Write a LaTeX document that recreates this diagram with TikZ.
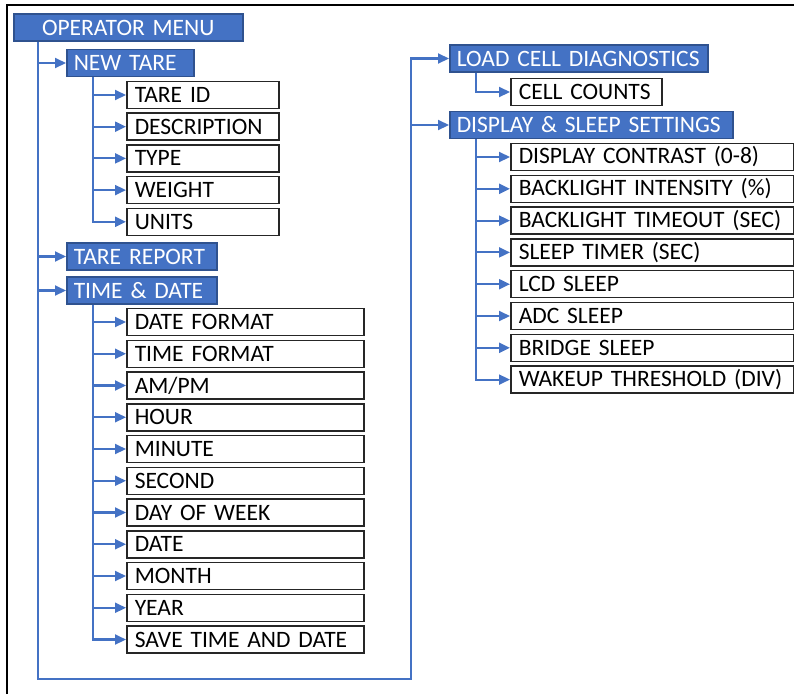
\documentclass[tikz,border=0pt]{standalone}
\usepackage{fontspec}
\setmainfont{Carlito}
\usetikzlibrary{arrows.meta}
\definecolor{menublue}{HTML}{4472C4}
\definecolor{menuedge}{HTML}{2F528F}
\begin{document}
\begin{tikzpicture}[x=1pt,y=-1pt,
  every node/.style={font=\fontsize{23.5}{26}\selectfont, inner ysep=0pt},
  head/.style={draw=menuedge, fill=menublue, text=white, line width=1.5pt,
    minimum height=27pt, anchor=west, align=left, inner xsep=7pt, text width=#1},
  item/.style={draw=black!85, fill=white, line width=1.5pt,
    minimum height=27pt, anchor=west, align=left, inner xsep=8pt, text width=#1},
  conn/.style={draw=menublue, line width=2.1pt},
  arr/.style={conn, -{Triangle[length=11pt,width=10pt]}},
]
\useasboundingbox (0,0) rectangle (794,694);

% page frame
\draw[line width=2pt] (6.5,694) -- (6.5,5) -- (794,5);

% top level
\node[head=215pt, align=center] (opmenu) at (13,27.5) {OPERATOR MENU};
\node[head=113pt] (newtare)    at (66,63)    {NEW TARE};
\node[head=136pt] (tarereport) at (66,256.5) {TARE REPORT};
\node[head=136pt] (timedate)   at (66,290.5) {TIME \& DATE};
\node[head=244pt] (loadcell)   at (449,58.5) {LOAD CELL DIAGNOSTICS};
\node[head=269pt] (display)    at (449,125)  {DISPLAY \& SLEEP SETTINGS};

% new tare entries
\foreach \n/\t [count=\i from 0] in {tareid/TARE ID, desc/DESCRIPTION, type/TYPE, weight/WEIGHT, units/UNITS}
  \node[item=136pt] (\n) at (126,95+31.7*\i) {\t};

% time and date entries
\foreach \n/\t [count=\i from 0] in {datefmt/DATE FORMAT, timefmt/TIME FORMAT, ampm/{AM/PM},
    hour/HOUR, minute/MINUTE, second/SECOND, dow/DAY OF WEEK, date/DATE, month/MONTH,
    year/YEAR, savetd/SAVE TIME AND DATE}
  \node[item=221pt] (\n) at (126,322+31.75*\i) {\t};

% diagnostics entry
\node[item=135pt] (cellcounts) at (510,92) {CELL COUNTS};

% display and sleep entries
\foreach \n/\t [count=\i from 0] in {contrast/DISPLAY CONTRAST (0-8), blint/BACKLIGHT INTENSITY (\%),
    bltime/BACKLIGHT TIMEOUT (SEC), sleeptmr/SLEEP TIMER (SEC), lcdsleep/LCD SLEEP,
    adcsleep/ADC SLEEP, bridgesleep/BRIDGE SLEEP, wakeup/WAKEUP THRESHOLD (DIV)}
  \node[item=267pt] (\n) at (510,157+31.8*\i) {\t};

% trunk points
\coordinate (trunk) at ([xshift=25pt]opmenu.south west);
\coordinate (nt) at ([xshift=27pt]newtare.south west);
\coordinate (td) at ([xshift=27pt]timedate.south west);
\coordinate (lc) at ([xshift=27pt]loadcell.south west);
\coordinate (ds) at ([xshift=27pt]display.south west);
\coordinate (cornerl) at (trunk |- 0,679);
\coordinate (cornerr) at (411,679);

% main trunk
\draw[arr] (trunk) |- (newtare.west);
\draw[arr] (trunk) |- (tarereport.west);
\draw[arr] (trunk) |- (timedate.west);
\draw[arr] (trunk) -- (cornerl) -- (cornerr) |- (loadcell.west);
\draw[arr] (cornerr) |- (display.west);

% branches
\foreach \n in {tareid, desc, type, weight, units}
  \draw[arr] (nt) |- (\n.west);
\foreach \n in {datefmt, timefmt, ampm, hour, minute, second, dow, date, month, year, savetd}
  \draw[arr] (td) |- (\n.west);
\draw[arr] (lc) |- (cellcounts.west);
\foreach \n in {contrast, blint, bltime, sleeptmr, lcdsleep, adcsleep, bridgesleep, wakeup}
  \draw[arr] (ds) |- (\n.west);
\end{tikzpicture}
\end{document}
